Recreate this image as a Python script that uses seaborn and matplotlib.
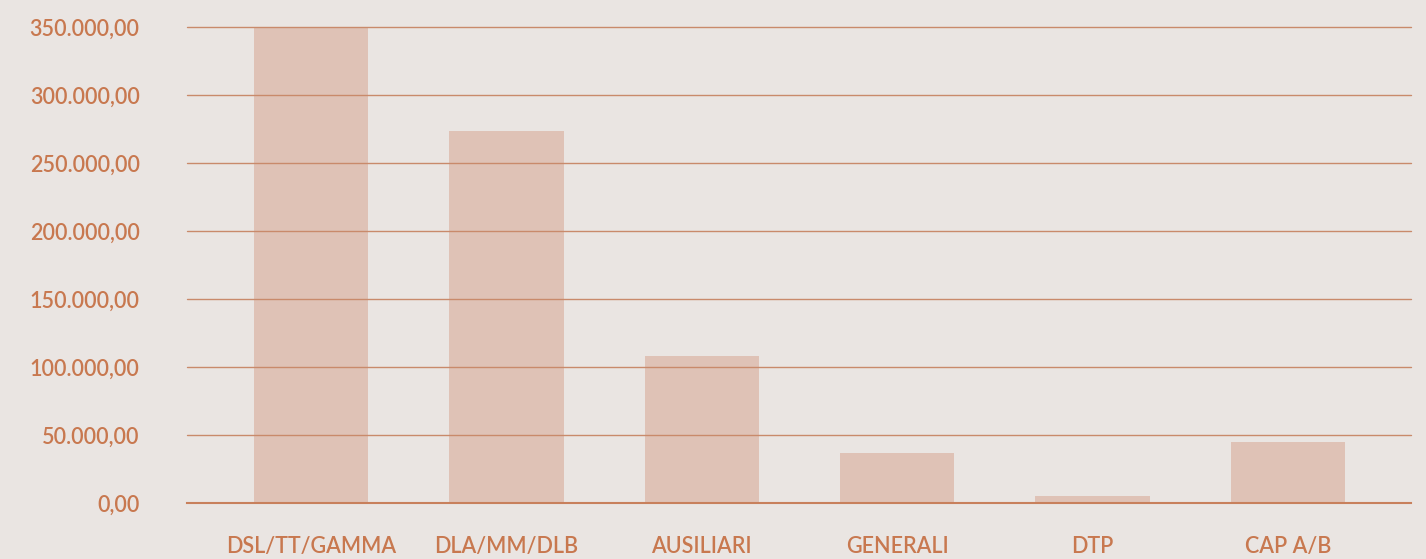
import seaborn as sns
import pandas as pd
import matplotlib.pyplot as plt
from matplotlib.ticker import FuncFormatter

# data
categories = ['DSL/TT/GAMMA', 'DLA/MM/DLB', 'AUSILIARI', 'GENERALI', 'DTP', 'CAP A/B']
amounts = [350000, 273500, 108000, 36800, 5200, 44900]
yticks = [0, 50000, 100000, 150000, 200000, 250000, 300000, 350000]

df = pd.DataFrame({'categoria': categories, 'importo': amounts})

bg = '#eae5e2'
bar_col = '#dfc2b6'
txt_col = '#c8784f'
grid_col = '#c98a6b'

sns.set_theme(style='white')
plt.rcParams['font.family'] = ['Lato', 'DejaVu Sans']

fig = plt.figure(figsize=(14.26, 5.59), dpi=100, facecolor=bg)
ax = fig.add_axes([0.1311, 0.1002, 0.8584, 0.8515])
ax.set_facecolor(bg)

sns.barplot(data=df, x='categoria', y='importo', color=bar_col, saturation=1,
            width=0.585, linewidth=0, ax=ax, zorder=1)

def it_fmt(v, pos):
    s = f'{v:,.2f}'
    return s.replace(',', 'X').replace('.', ',').replace('X', '.')

ax.set_yticks(yticks)
ax.yaxis.set_major_formatter(FuncFormatter(it_fmt))
ax.set_ylim(0, 350000)
ax.set_xlim(-0.635, 5.63)
for y in yticks[1:]:
    ax.axhline(y, color=grid_col, lw=1.0, zorder=2, clip_on=False)

for s in ['top', 'right', 'left']:
    ax.spines[s].set_visible(False)
ax.spines['bottom'].set_color('#c8805c')
ax.spines['bottom'].set_linewidth(1.5)
ax.spines['bottom'].set_zorder(3)

ax.tick_params(axis='both', length=0, colors=txt_col, labelsize=15.5)
ax.tick_params(axis='y', pad=34)
ax.tick_params(axis='x', pad=24)
for lab in ax.get_xticklabels() + ax.get_yticklabels():
    lab.set_fontweight('semibold')
ax.set_xlabel('')
ax.set_ylabel('')

fig.savefig('out.png', dpi=100, facecolor=bg)
